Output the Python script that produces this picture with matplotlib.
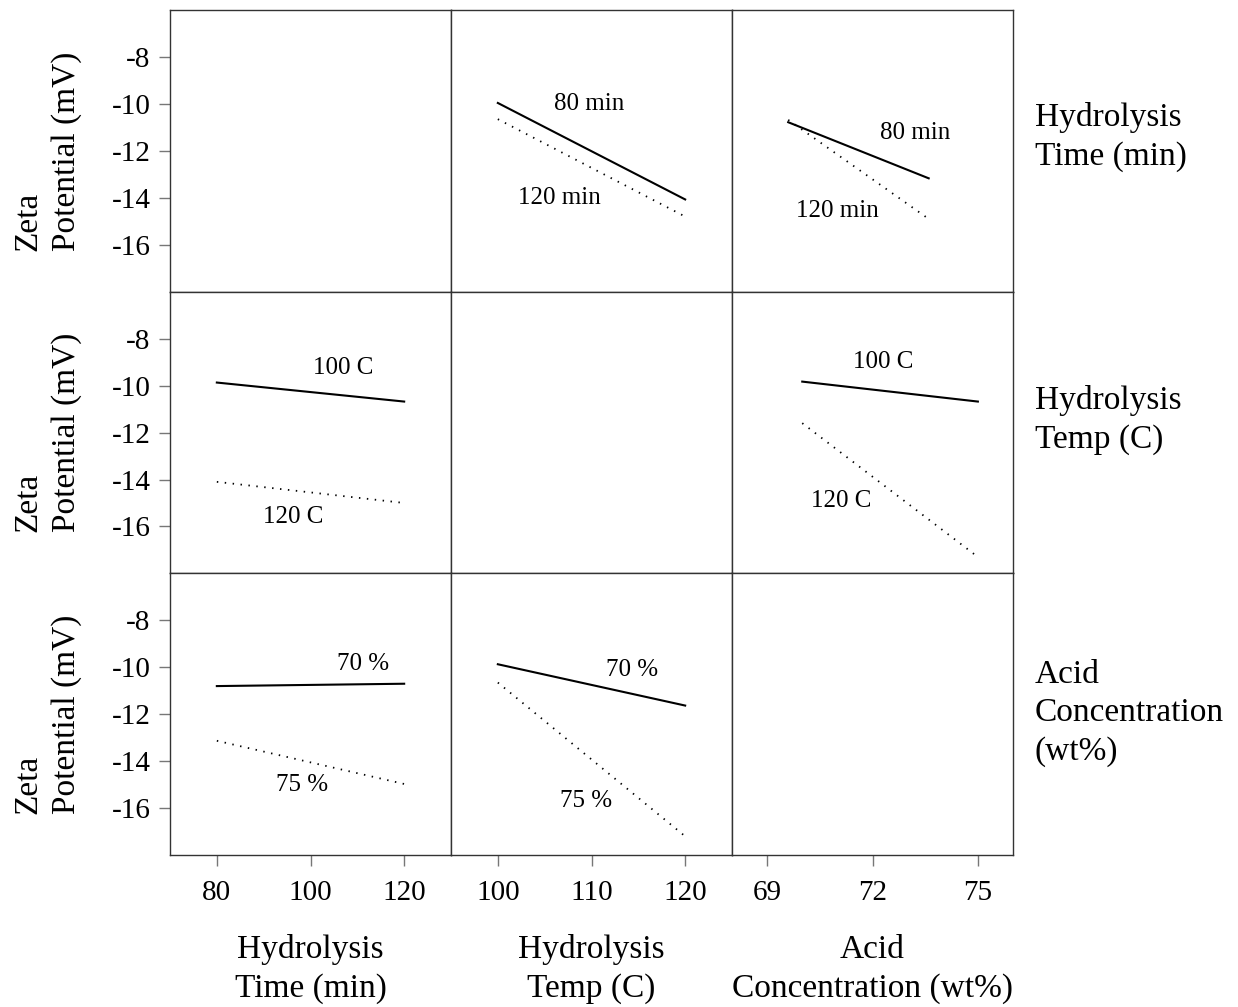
import matplotlib
matplotlib.use("Agg")
import matplotlib.pyplot as plt

plt.rcParams['font.family'] = ['Liberation Serif', 'DejaVu Serif']
plt.rcParams['axes.unicode_minus'] = False

# x levels
time_x = [80, 120]
temp_x = [100, 120]
acid_x = [70, 75]
acid_x_top = [69.6, 73.6]

# row 1: lines split by hydrolysis time
t80_vs_temp = [-9.96, -14.07]
t120_vs_temp = [-10.65, -14.8]
t80_vs_acid = [-10.78, -13.17]
t120_vs_acid = [-10.68, -14.9]

# row 2: lines split by hydrolysis temp
c100_vs_time = [-9.87, -10.68]
c120_vs_time = [-14.1, -15.0]
c100_vs_acid = [-9.83, -10.68]
c120_vs_acid = [-11.6, -17.3]

# row 3: lines split by acid concentration
a70_vs_time = [-10.8, -10.7]
a75_vs_time = [-13.13, -14.97]
a70_vs_temp = [-9.87, -11.63]
a75_vs_temp = [-10.65, -17.2]

xlims = [(70, 130), (95, 125), (68, 76)]
xticks = [[80, 100, 120], [100, 110, 120], [69, 72, 75]]
yticks = [-8, -10, -12, -14, -16]
col_names = ["Hydrolysis\nTime (min)", "Hydrolysis\nTemp (C)", "Acid\nConcentration (wt%)"]
row_names = ["Hydrolysis\nTime (min)", "Hydrolysis\nTemp (C)", "Acid\nConcentration\n(wt%)"]

solid = dict(color='black', lw=1.5, ls='-')
dotted = dict(color='black', lw=1.3, ls=(0, (0.8, 3.6)))

# (row, col) -> [(x, y, style, label, label x, label y)]
cells = {
    (0, 1): [(temp_x, t80_vs_temp, solid, "80 min", 109.7, -10.0),
             (temp_x, t120_vs_temp, dotted, "120 min", 106.6, -14.0)],
    (0, 2): [(acid_x_top, t80_vs_acid, solid, "80 min", 73.2, -11.25),
             (acid_x_top, t120_vs_acid, dotted, "120 min", 71.0, -14.58)],
    (1, 0): [(time_x, c100_vs_time, solid, "100 C", 107, -9.24),
             (time_x, c120_vs_time, dotted, "120 C", 96.4, -15.6)],
    (1, 2): [(acid_x, c100_vs_acid, solid, "100 C", 72.3, -8.98),
             (acid_x, c120_vs_acid, dotted, "120 C", 71.1, -14.92)],
    (2, 0): [(time_x, a70_vs_time, solid, "70 %", 111.3, -9.84),
             (time_x, a75_vs_time, dotted, "75 %", 98.1, -15.0)],
    (2, 1): [(temp_x, a70_vs_temp, solid, "70 %", 114.3, -10.1),
             (temp_x, a75_vs_temp, dotted, "75 %", 109.4, -15.7)],
}

W, H = 1238, 1007
fig = plt.figure(figsize=(W / 100, H / 100), dpi=100)

left0, top0, cw, ch = 170, 10, 281, 281.7
for r in range(3):
    for c in range(3):
        ax = fig.add_axes([(left0 + c * cw) / W, 1 - (top0 + (r + 1) * ch) / H, cw / W, ch / H])
        ax.set_xlim(*xlims[c])
        ax.set_ylim(-18, -6)
        for sp in ax.spines.values():
            sp.set_color('#333333')
            sp.set_linewidth(1.0)
        ax.tick_params(direction='out', length=8, width=1, color='#777777',
                       labelsize=21, pad=6)
        ax.set_yticks(yticks)
        ax.set_xticks(xticks[c])
        if c != 0:
            ax.tick_params(axis='y', left=False, labelleft=False)
        if r != 2:
            ax.tick_params(axis='x', bottom=False, labelbottom=False)
        else:
            ax.tick_params(axis='x', pad=10)
        for x, y, st, lab, lx, ly in cells.get((r, c), []):
            ax.plot(x, y, **st)
            ax.text(lx, ly, lab, fontsize=18, ha='center', va='center')

ys = [137, 420, 713]
for r in range(3):
    yc = top0 + (r + 0.5) * ch
    fig.text(47 / W, 1 - yc / H, "Zeta\nPotential (mV)", rotation=90, fontsize=24,
             ha='center', va='center', multialignment='left', linespacing=1.33)
    fig.text(1035 / W, 1 - ys[r] / H, row_names[r], fontsize=24, ha='left', va='center',
             linespacing=1.33)

for c in range(3):
    xc = left0 + (c + 0.5) * cw
    fig.text(xc / W, 1 - 969 / H, col_names[c], fontsize=24, ha='center', va='center',
             linespacing=1.33)

fig.savefig("out.png", dpi=100)
